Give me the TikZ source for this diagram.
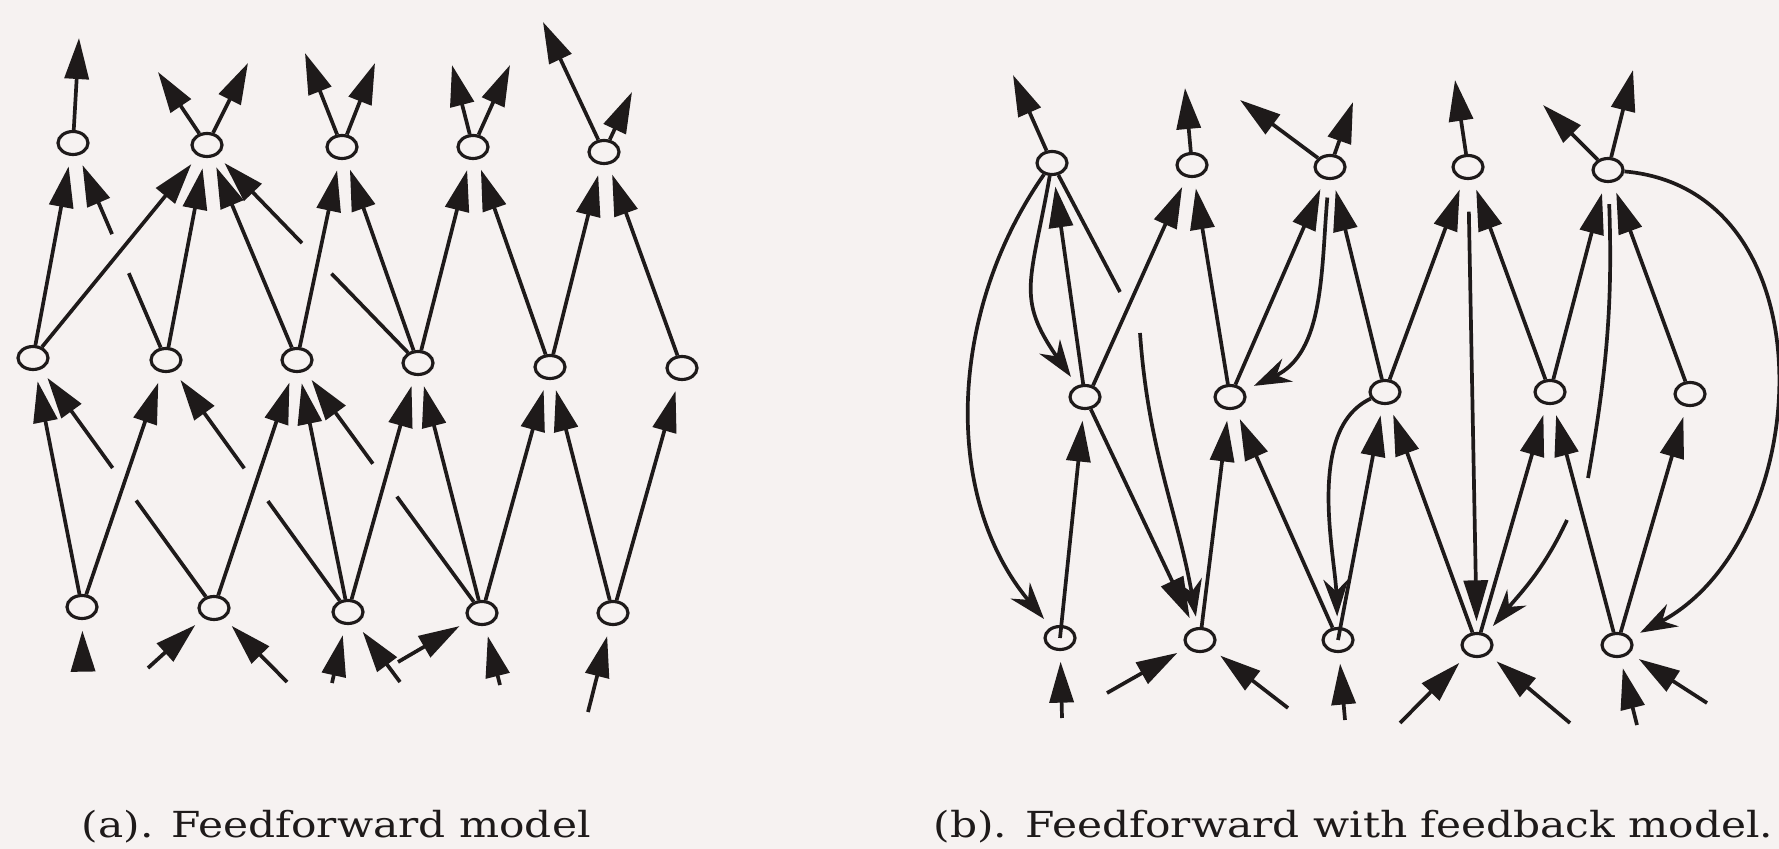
\documentclass[tikz,border=0pt]{standalone}
\usepackage{fontspec}
\setmainfont{DejaVu Serif}
\usepackage{graphicx}
\usepackage{xcolor}
\usepackage{tikz}
\usetikzlibrary{positioning,arrows.meta,calc,shapes.geometric}

\definecolor{paper}{RGB}{246,242,241}
\definecolor{ink}{RGB}{30,26,26}

\begin{document}
\begin{tikzpicture}[
  x=0.01cm, y=0.01cm, line width=1.05pt, color=ink,
  unit/.style={draw, ellipse, minimum width=0.30cm, minimum height=0.23cm, inner sep=0pt, line width=0.9pt},
  conn/.style={-{Triangle[length=0.41cm, width=0.24cm]}, shorten >=3pt},
  io/.style={-{Triangle[length=0.41cm, width=0.24cm]}},
  seg/.style={-},
  fbk/.style={-{Stealth[length=0.37cm, width=0.25cm, inset=0.12cm]}, shorten >=3pt},
  caption/.style={anchor=base west, inner sep=0pt, font=\fontsize{10.2}{12}\selectfont},
]
\useasboundingbox (0,0) rectangle (1779,-849);
\fill[paper] (0,0) rectangle (1779,-849);

% ---------- (a) feedforward model ----------
\node[unit] (fft1) at (73,-143)  {};
\node[unit] (fft2) at (207,-145) {};
\node[unit] (fft3) at (342,-147) {};
\node[unit] (fft4) at (473,-147) {};
\node[unit] (fft5) at (604,-152) {};
\node[unit] (ffm1) at (33,-358)  {};
\node[unit] (ffm2) at (166,-360) {};
\node[unit] (ffm3) at (297,-360) {};
\node[unit] (ffm4) at (418,-363) {};
\node[unit] (ffm5) at (550,-367) {};
\node[unit] (ffm6) at (682,-368) {};
\node[unit] (ffb1) at (82,-607)  {};
\node[unit] (ffb2) at (214,-608) {};
\node[unit] (ffb3) at (348,-612) {};
\node[unit] (ffb4) at (482,-613) {};
\node[unit] (ffb5) at (613,-613) {};

% free ends: outputs on top, inputs below
\coordinate (ffo1) at (79,-38);  \coordinate (ffo2) at (158,-72);
\coordinate (ffo3) at (248,-63); \coordinate (ffo4) at (305,-53);
\coordinate (ffo5) at (375,-63); \coordinate (ffo6) at (452,-65);
\coordinate (ffo7) at (510,-65); \coordinate (ffo8) at (543,-22);
\coordinate (ffo9) at (632,-92);
\coordinate (ffi1) at (83,-667);  \coordinate (ffi2) at (148,-668);
\coordinate (ffi3) at (287,-682); \coordinate (ffi4) at (332,-683);
\coordinate (ffi5) at (400,-682); \coordinate (ffi6) at (398,-662);
\coordinate (ffi7) at (500,-685); \coordinate (ffi8) at (588,-712);

\draw[io] (fft1) -- (ffo1);
\draw[io] (fft2) -- (ffo2);
\draw[io] (fft2) -- (ffo3);
\draw[io] (fft3) -- (ffo4);
\draw[io] (fft3) -- (ffo5);
\draw[io] (fft4) -- (ffo6);
\draw[io] (fft4) -- (ffo7);
\draw[io] (fft5) -- (ffo8);
\draw[io] (fft5) -- (ffo9);

% middle -> top
\draw[conn] (ffm1) -- (fft1);
\draw[conn] (ffm1) -- (fft2);
\draw[conn] (ffm2) -- (fft2);
\draw[conn] (ffm3) -- (fft2);
\draw[conn] (ffm3) -- (fft3);
\draw[conn] (ffm4) -- (fft3);
\draw[conn] (ffm4) -- (fft4);
\draw[conn] (ffm5) -- (fft4);
\draw[conn] (ffm5) -- (fft5);
\draw[conn] (ffm6) -- (fft5);
\draw[seg]  (ffm2) -- ($(ffm2)!0.40!(fft1)$);
\draw[conn] ($(ffm2)!0.58!(fft1)$) -- (fft1);
\draw[seg]  (ffm4) -- ($(ffm4)!0.41!(fft2)$);
\draw[conn] ($(ffm4)!0.55!(fft2)$) -- (fft2);

% bottom -> middle
\draw[conn] (ffb1) -- (ffm1);
\draw[conn] (ffb1) -- (ffm2);
\draw[conn] (ffb2) -- (ffm3);
\draw[conn] (ffb3) -- (ffm3);
\draw[conn] (ffb3) -- (ffm4);
\draw[conn] (ffb4) -- (ffm4);
\draw[conn] (ffb4) -- (ffm5);
\draw[conn] (ffb5) -- (ffm5);
\draw[conn] (ffb5) -- (ffm6);
\draw[seg]  (ffb2) -- ($(ffb2)!0.43!(ffm1)$);
\draw[conn] ($(ffb2)!0.56!(ffm1)$) -- (ffm1);
\draw[seg]  (ffb3) -- ($(ffb3)!0.44!(ffm2)$);
\draw[conn] ($(ffb3)!0.57!(ffm2)$) -- (ffm2);
\draw[seg]  (ffb4) -- ($(ffb4)!0.46!(ffm3)$);
\draw[conn] ($(ffb4)!0.59!(ffm3)$) -- (ffm3);

\draw[conn] (ffi1) -- (ffb1);
\draw[conn] (ffi2) -- (ffb2);
\draw[conn] (ffi3) -- (ffb2);
\draw[conn] (ffi4) -- (ffb3);
\draw[conn] (ffi5) -- (ffb3);
\draw[conn] (ffi6) -- (ffb4);
\draw[conn] (ffi7) -- (ffb4);
\draw[conn] (ffi8) -- (ffb5);

\node[caption] (capa) at (80,-837) {\scalebox{1.18}[1]{(a). Feedforward model}};

% ---------- (b) feedforward with feedback ----------
\node[unit] (fbt1) at (1052,-163) {};
\node[unit] (fbt2) at (1192,-165) {};
\node[unit] (fbt3) at (1330,-167) {};
\node[unit] (fbt4) at (1468,-167) {};
\node[unit] (fbt5) at (1608,-170) {};
\node[unit] (fbm1) at (1085,-397) {};
\node[unit] (fbm2) at (1230,-397) {};
\node[unit] (fbm3) at (1385,-392) {};
\node[unit] (fbm4) at (1550,-392) {};
\node[unit] (fbm5) at (1690,-394) {};
\node[unit] (fbb1) at (1060,-638) {};
\node[unit] (fbb2) at (1200,-640) {};
\node[unit] (fbb3) at (1338,-640) {};
\node[unit] (fbb4) at (1477,-645) {};
\node[unit] (fbb5) at (1617,-645) {};

\coordinate (fbo1) at (1013,-75);  \coordinate (fbo2) at (1185,-88);
\coordinate (fbo3) at (1240,-100); \coordinate (fbo4) at (1353,-102);
\coordinate (fbo5) at (1455,-80);  \coordinate (fbo6) at (1543,-105);
\coordinate (fbo7) at (1633,-70);
\coordinate (fbi1) at (1062,-718); \coordinate (fbi2) at (1107,-693);
\coordinate (fbi3) at (1288,-708); \coordinate (fbi4) at (1345,-720);
\coordinate (fbi5) at (1400,-723); \coordinate (fbi6) at (1570,-723);
\coordinate (fbi7) at (1637,-725); \coordinate (fbi8) at (1707,-703);
% gaps where a feedback line passes behind
\coordinate (fbg1) at (1120,-292); \coordinate (fbg2) at (1140,-333);
\coordinate (fbg3) at (1588,-478); \coordinate (fbg4) at (1567,-520);

\draw[io] (fbt1) -- (fbo1);
\draw[io] (fbt2) -- (fbo2);
\draw[io] (fbt3) -- (fbo3);
\draw[io] (fbt3) -- (fbo4);
\draw[io] (fbt4) -- (fbo5);
\draw[io] (fbt5) -- (fbo6);
\draw[io] (fbt5) -- (fbo7);

% feedforward part
\draw[conn] (fbm1) -- (fbt1);
\draw[conn] (fbm1.55) -- (fbt2);
\draw[conn] (fbm2) -- (fbt2);
\draw[conn] (fbm2) -- (fbt3);
\draw[conn] (fbm3) -- (fbt3);
\draw[conn] (fbm3) -- (fbt4);
\draw[conn] (fbm4) -- (fbt4);
\draw[conn] (fbm4) -- (fbt5);
\draw[conn] (fbm5) -- (fbt5);
\draw[conn] (fbb1.center) -- (fbm1);
\draw[conn] (fbb2) -- (fbm2);
\draw[conn] (fbb3) -- (fbm2);
\draw[conn] (fbb3.center) -- (fbm3);
\draw[conn] (fbb4) -- (fbm3);
\draw[conn] (fbb4) -- (fbm4);
\draw[conn] (fbb5) -- (fbm4);
\draw[conn] (fbb5) -- (fbm5);

% feedback part
\draw[conn] (fbm1) -- (fbb2);
\draw[fbk] (fbt1) to[out=235, in=130, looseness=0.95] (fbb1);
\draw[fbk] (fbt1) to[out=260, in=125, looseness=1.3] (fbm1);
\draw[seg] (fbt1) -- (fbg1);
\draw[fbk] (fbg2) to[out=-86, in=100] (fbb2);
\draw[fbk, shorten <=5pt] (fbt3) to[out=-95, in=25] (fbm2);
\draw[fbk] (fbm3) to[out=205, in=92, looseness=0.8] (fbb3);
\draw[conn, shorten <=9pt] (fbt4) -- (fbb4);
\draw[seg, shorten <=6pt] (fbt5) to[out=-88, in=80] (fbg3);
\draw[fbk] (fbg4) to[out=245, in=50] (fbb4);
\draw[fbk] (fbt5) to[out=-5, in=28, looseness=1.15] (fbb5);

\draw[conn] (fbi1) -- (fbb1);
\draw[conn] (fbi2) -- (fbb2);
\draw[conn] (fbi3) -- (fbb2);
\draw[conn] (fbi4) -- (fbb3);
\draw[conn] (fbi5) -- (fbb4);
\draw[conn] (fbi6) -- (fbb4);
\draw[conn] (fbi7) -- (fbb5);
\draw[conn] (fbi8) -- (fbb5);

\node[caption] (capb) at (932,-837) {\scalebox{1.18}[1]{(b). Feedforward with feedback model.}};
\end{tikzpicture}
\end{document}
